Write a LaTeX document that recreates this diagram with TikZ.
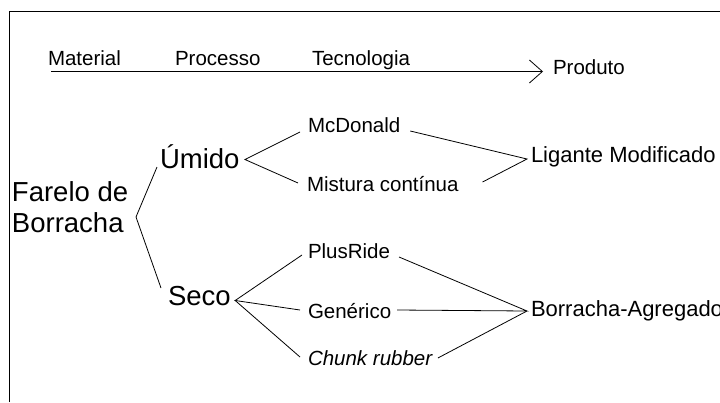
\documentclass[tikz,border=0pt]{standalone}
\usepackage{fontspec}
\setmainfont{Liberation Sans}
\usetikzlibrary{arrows.meta}
\begin{document}
\begin{tikzpicture}[x=1pt,y=-1pt,
  txt/.style={inner sep=0pt,outer sep=0pt,anchor=base west},
  small/.style={txt,font=\fontsize{20.5}{24}\selectfont},
  big/.style={txt,font=\fontsize{27.5}{31}\selectfont},
  mid/.style={txt,font=\fontsize{22}{26}\selectfont},
  conn/.style={line width=0.8pt,black},
  frame/.style={line width=0.8pt,black}]
\useasboundingbox (0,0) rectangle (720,402);
\draw[frame] (9,402) -- (9,11) -- (720,11);
% header
\node[small] (mat) at (48,65) {Material};
\node[small] (pro) at (175,65) {Processo};
\node[small] (tec) at (312,65) {Tecnologia};
\node[small] (prod) at (553,74) {Produto};
\draw[conn,-{Straight Barb[length=13pt,width=23pt,line width=0.8pt]}]
  ([xshift=3pt,yshift=-6.5pt]mat.base west) -- ([xshift=-10pt,yshift=2.5pt]prod.base west);
% tree
\node[txt,anchor=north west,align=left,font=\fontsize{27.5}{31}\selectfont] (far) at (12,182) {Farelo de\\Borracha};
\node[big] (umi) at (160,168) {Úmido};
\node[big] (seco) at (168,305) {Seco};
\node[small] (mcd) at (308,132) {McDonald};
\node[small] (mis) at (307,191) {Mistura contínua};
\node[small] (plus) at (308,258) {PlusRide};
\node[small] (gen) at (308,318) {Genérico};
\node[small] (chunk) at (308,365) {\textit{Chunk rubber}};
\node[mid] (lig) at (531,162) {Ligante Modificado};
\node[mid] (bag) at (531,316) {Borracha-Agregado};
% vertices
\coordinate (v1) at (136,217);
\coordinate (v2) at ([xshift=5.5pt,yshift=8.5pt]umi.base east);
\coordinate (v3) at ([xshift=4.5pt,yshift=4.5pt]seco.base east);
\coordinate (v4) at ([xshift=-4pt,yshift=3pt]lig.base west);
\coordinate (v5) at ([xshift=-4pt,yshift=5pt]bag.base west);
% connectors
\draw[conn] ([xshift=-3pt,yshift=1pt]umi.base west) -- (v1) -- ([xshift=-7pt,yshift=17pt]seco.base west);
\draw[conn] ([xshift=-8pt]mcd.base west) -- (v2) -- ([xshift=-9pt,yshift=8pt]mis.base west);
\draw[conn] ([xshift=-6pt,yshift=3pt]plus.base west) -- (v3) -- ([xshift=-8pt,yshift=8pt]gen.base west);
\draw[conn] (v3) -- ([xshift=-8pt,yshift=8pt]chunk.base west);
\draw[conn] ([xshift=10pt,yshift=1pt]mcd.base east) -- (v4) -- ([xshift=24pt,yshift=9pt]mis.base east);
\draw[conn] ([xshift=9pt,yshift=1pt]plus.base east) -- (v5) -- ([xshift=6pt,yshift=8pt]gen.base east);
\draw[conn] (v5) -- ([xshift=5pt,yshift=7pt]chunk.base east);
\end{tikzpicture}
\end{document}
